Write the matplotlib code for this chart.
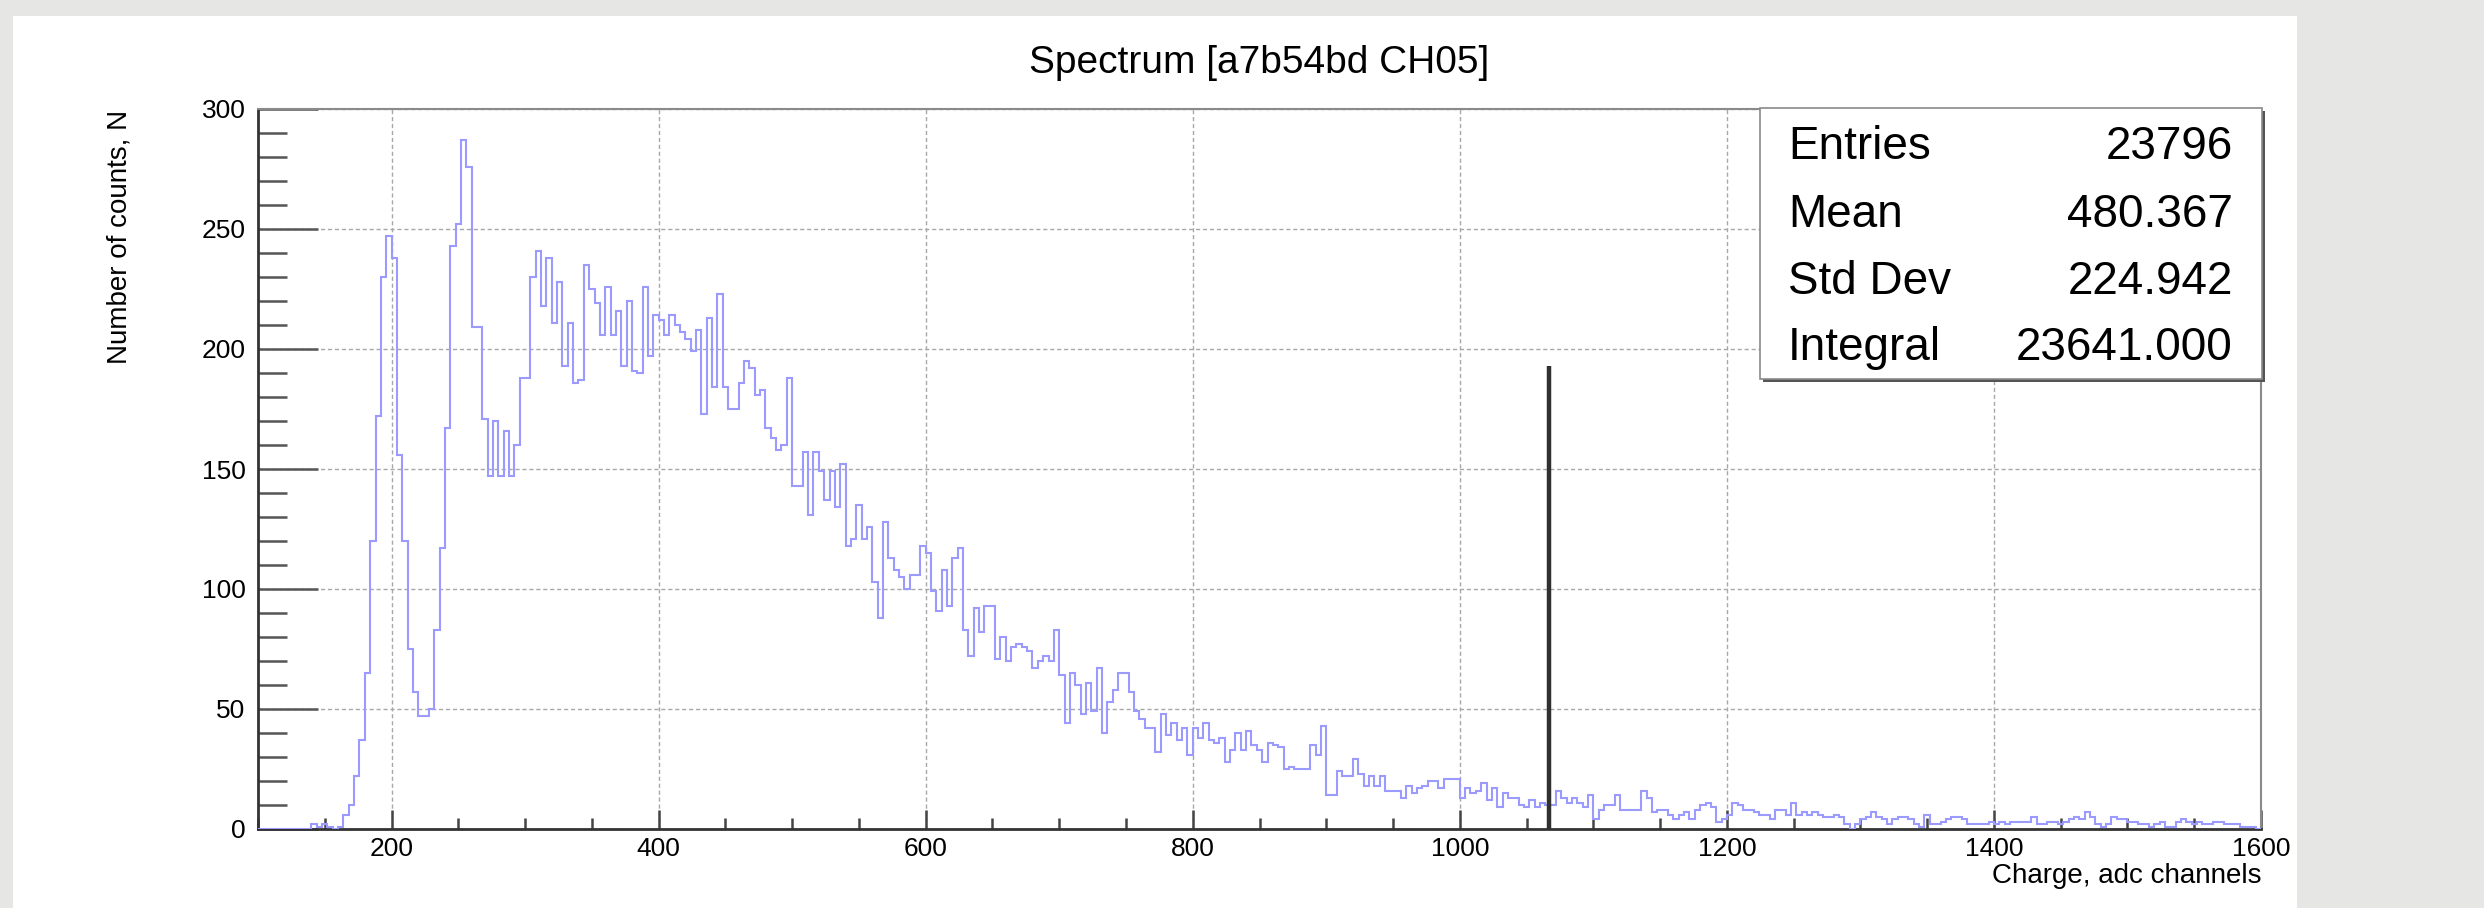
import numpy as np
import matplotlib
matplotlib.use('Agg')
import matplotlib.pyplot as plt
from matplotlib.patches import Rectangle
from matplotlib.ticker import MultipleLocator

plt.rcParams['font.family'] = ['Liberation Sans', 'DejaVu Sans']

# histogram binning (adc channels)
x_min, x_max, bin_width = 100, 1600, 4

# bin contents, ten bins per row, first bin of each row noted on the right
counts = [
    0, 0, 0, 0, 0, 0, 0, 0, 0, 0,                      # 100
    2, 1, 2, 1, 0, 1, 6, 10, 22, 37,                   # 140
    65, 120, 172, 230, 247, 238, 156, 120, 75, 57,     # 180
    47, 47, 50, 83, 117, 167, 243, 252, 287, 276,      # 220
    209, 209, 171, 147, 170, 147, 166, 147, 160, 188,  # 260
    188, 230, 241, 218, 238, 211, 228, 193, 211, 186,  # 300
    187, 235, 225, 219, 206, 226, 206, 216, 193, 220,  # 340
    191, 190, 226, 197, 214, 212, 206, 214, 210, 207,  # 380
    204, 199, 208, 173, 213, 184, 223, 184, 175, 175,  # 420
    186, 195, 192, 181, 183, 167, 163, 158, 160, 188,  # 460
    143, 143, 157, 131, 157, 149, 137, 149, 134, 152,  # 500
    118, 121, 135, 121, 126, 103, 88, 128, 113, 108,   # 540
    105, 100, 106, 106, 118, 115, 99, 91, 108, 93,     # 580
    113, 117, 83, 72, 92, 82, 93, 93, 71, 80,          # 620
    70, 76, 77, 76, 74, 67, 70, 72, 70, 83,            # 660
    64, 44, 65, 60, 48, 61, 49, 67, 40, 53,            # 700
    58, 65, 65, 57, 49, 46, 42, 42, 32, 48,            # 740
    39, 44, 37, 42, 31, 42, 38, 44, 37, 36,            # 780
    38, 28, 33, 40, 33, 41, 35, 33, 28, 36,            # 820
    35, 34, 25, 26, 25, 25, 25, 35, 31, 43,            # 860
    14, 14, 24, 22, 22, 29, 23, 18, 22, 18,            # 900
    22, 16, 16, 16, 13, 18, 15, 17, 18, 20,            # 940
    20, 17, 21, 21, 21, 13, 17, 15, 16, 19,            # 980
    12, 17, 9, 15, 13, 13, 10, 9, 12, 9,               # 1020
    11, 10, 10, 16, 13, 11, 13, 11, 9, 14,             # 1060
    4, 8, 10, 10, 14, 8, 8, 8, 8, 16,                  # 1100
    13, 7, 8, 8, 6, 4, 6, 7, 4, 8,                     # 1140
    10, 11, 9, 3, 4, 6, 11, 10, 8, 8,                  # 1180
    7, 6, 6, 4, 8, 8, 6, 11, 6, 7,                     # 1220
    6, 7, 6, 5, 5, 6, 5, 2, 0, 2,                      # 1260
    4, 5, 7, 5, 4, 2, 4, 5, 5, 4,                      # 1300
    2, 1, 6, 2, 2, 3, 4, 5, 5, 4,                      # 1340
    2, 2, 2, 2, 3, 2, 3, 2, 3, 3,                      # 1380
    3, 3, 5, 2, 2, 3, 3, 2, 3, 4,                      # 1420
    5, 4, 7, 5, 2, 1, 2, 5, 4, 4,                      # 1460
    3, 3, 2, 2, 1, 2, 3, 1, 1, 3,                      # 1500
    4, 3, 2, 3, 2, 2, 3, 3, 2, 2,                      # 1540
    2, 1, 1, 1, 0,                                     # 1580
]

stat_names = ['Entries', 'Mean', 'Std Dev', 'Integral']
stat_values = ['23796', '480.367', '224.942', '23641.000']

# threshold marker
cut_position = 1067
cut_height = 193

W, H = 2484, 908
edges = np.arange(x_min, x_max + bin_width, bin_width)

fig = plt.figure(figsize=(W / 100, H / 100), dpi=100, facecolor='#e6e6e4')
# white canvas inside the grey frame
fig.add_artist(Rectangle((13 / W, 0), (2297 - 13) / W, 1 - 16 / H,
                         transform=fig.transFigure, facecolor='white',
                         edgecolor='none', zorder=-1))

ax = fig.add_axes([258 / W, 1 - 829 / H, (2261 - 258) / W, (829 - 109) / H])
ax.set_facecolor('white')

ax.stairs(counts, edges, color='#9a9aff', linewidth=1.5, zorder=3)
ax.vlines(cut_position, 0, cut_height, color='#303030', linewidth=3.2, zorder=4)

ax.set_xlim(x_min, x_max)
ax.set_ylim(0, 300)

ax.xaxis.set_major_locator(MultipleLocator(200))
ax.xaxis.set_minor_locator(MultipleLocator(50))
ax.yaxis.set_major_locator(MultipleLocator(50))
ax.yaxis.set_minor_locator(MultipleLocator(10))

ax.tick_params(axis='y', which='major', direction='in', length=43, width=1.8,
               color='#555555', labelsize=19, pad=9)
ax.tick_params(axis='y', which='minor', direction='in', length=21, width=1.8,
               color='#555555')
ax.tick_params(axis='x', which='major', direction='in', length=14, width=1.8,
               color='#444444', labelsize=19, pad=6)
ax.tick_params(axis='x', which='minor', direction='in', length=8, width=1.8,
               color='#444444')

ax.grid(True, which='major', color='#a8a8a8', linestyle=(0, (3, 2)), linewidth=1.0)

for side in ['left', 'bottom']:
    ax.spines[side].set_color('#333333')
    ax.spines[side].set_linewidth(2)
for side in ['top', 'right']:
    ax.spines[side].set_color('#8a8a8a')
    ax.spines[side].set_linewidth(1.5)

fig.text((258 + 2261) / 2 / W, 1 - 63 / H, 'Spectrum [a7b54bd CH05]',
         ha='center', va='center', fontsize=28)
fig.text(119 / W, 1 - 110 / H, 'Number of counts, N', rotation=90,
         ha='center', va='top', fontsize=20)
fig.text(2261 / W, 1 - 876 / H, 'Charge, adc channels',
         ha='right', va='center', fontsize=20)

# statistics box with shadow
bx0, bx1 = 1760 / W, 2262 / W
by0, by1 = 1 - 379 / H, 1 - 108 / H
fig.add_artist(Rectangle((bx0 + 3 / W, by0 - 3 / H), bx1 - bx0, by1 - by0,
                         transform=fig.transFigure, facecolor='#555555',
                         edgecolor='none', zorder=5))
fig.add_artist(Rectangle((bx0, by0), bx1 - bx0, by1 - by0,
                         transform=fig.transFigure, facecolor='white',
                         edgecolor='#8a8a8a', linewidth=1.2, zorder=6))

baselines = [159, 227, 294, 360]
for name, value, yb in zip(stat_names, stat_values, baselines):
    fig.text(1788 / W, 1 - yb / H, name, ha='left', va='baseline',
             fontsize=33, zorder=7)
    fig.text(2233 / W, 1 - yb / H, value, ha='right', va='baseline',
             fontsize=33, zorder=7)

fig.savefig('out.png', dpi=100, facecolor=fig.get_facecolor())
